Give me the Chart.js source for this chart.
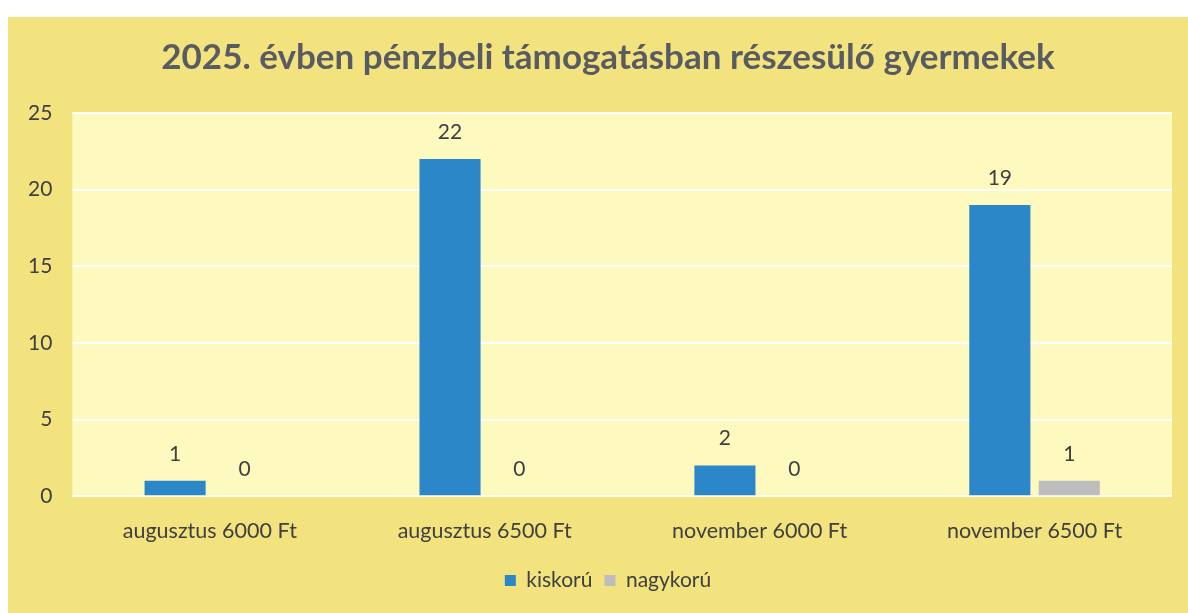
<!DOCTYPE html>
<html lang="hu">
<head>
<meta charset="utf-8">
<title>2025. évben pénzbeli támogatásban részesülő gyermekek</title>
<script src="https://cdn.jsdelivr.net/npm/chart.js@4.4.1/dist/chart.umd.min.js"></script>
<style>
    html, body {
        margin: 0;
        padding: 0;
        background: #ffffff;
        overflow: hidden;
    }
    .chart-box {
        position: absolute;
        left: 8px;
        top: 17px;
        width: 1180px;
        height: 596px;
        background: #f3e37e;
        overflow: hidden;
    }
</style>
</head>
<body>
<div class="chart-box">
    <canvas id="supportChart" width="1200" height="596"></canvas>
</div>
<script>
// 数据
const categories = ['augusztus 6000 Ft', 'augusztus 6500 Ft', 'november 6000 Ft', 'november 6500 Ft'];
const minorValues = [1, 22, 2, 19];   // kiskorú
const adultValues = [0, 0, 0, 1];     // nagykorú
const seriesNames = ['kiskorú', 'nagykorú'];
const yTicks = [0, 5, 10, 15, 20, 25];

const titleText = '2025. évben pénzbeli támogatásban részesülő gyermekek';
const fontFamily = 'Lato, "Open Sans", sans-serif';

// 绘图区背景
const plotBackground = {
    id: 'plotBackground',
    beforeDraw(chart) {
        const { ctx, chartArea } = chart;
        ctx.save();
        ctx.fillStyle = '#fdf9bf';
        ctx.fillRect(chartArea.left, chartArea.top, chartArea.right - chartArea.left, chartArea.bottom - chartArea.top);
        ctx.restore();
    }
};

// 柱顶数值
const valueLabels = {
    id: 'valueLabels',
    afterDatasetsDraw(chart) {
        const { ctx } = chart;
        ctx.save();
        ctx.font = '21px ' + fontFamily;
        ctx.fillStyle = '#404040';
        ctx.textAlign = 'center';
        ctx.textBaseline = 'middle';
        chart.data.datasets.forEach((ds, i) => {
            const meta = chart.getDatasetMeta(i);
            meta.data.forEach((bar, j) => {
                ctx.fillText(String(ds.data[j]), bar.x, bar.y - 27);
            });
        });
        ctx.restore();
    }
};

const ctx = document.getElementById('supportChart');

new Chart(ctx, {
    type: 'bar',
    data: {
        labels: categories,
        datasets: [{
            label: seriesNames[0],
            data: minorValues,
            backgroundColor: '#2c87c9',
            borderWidth: 0
        }, {
            label: seriesNames[1],
            data: adultValues,
            backgroundColor: '#bdbdbd',
            borderWidth: 0
        }]
    },
    options: {
        responsive: false,
        animation: false,
        devicePixelRatio: 1,
        layout: {
            padding: { left: 0, right: 0, top: 20, bottom: 12 }
        },
        datasets: {
            bar: {
                categoryPercentage: 0.505,
                barPercentage: 0.88
            }
        },
        plugins: {
            title: {
                display: true,
                text: titleText,
                color: '#585c62',
                font: { family: fontFamily, size: 35, weight: 'bold' },
                padding: { top: 0, bottom: 34 }
            },
            legend: {
                position: 'bottom',
                labels: {
                    color: '#404040',
                    font: { family: fontFamily, size: 21 },
                    boxWidth: 11,
                    boxHeight: 11,
                    padding: 12
                }
            },
            tooltip: { enabled: false }
        },
        scales: {
            x: {
                grid: { display: false },
                border: { display: false },
                ticks: {
                    color: '#404040',
                    font: { family: fontFamily, size: 21.5 },
                    padding: 14,
                    maxRotation: 0
                }
            },
            y: {
                min: 0,
                max: 25,
                afterBuildTicks(scale) {
                    scale.ticks = yTicks.map(v => ({ value: v }));
                },
                grid: {
                    color: 'rgba(255,255,255,0.95)',
                    lineWidth: 2,
                    drawTicks: false
                },
                border: { display: false },
                ticks: {
                    color: '#404040',
                    font: { family: fontFamily, size: 21 },
                    padding: 20
                }
            },
            // 右侧留白
            yRight: {
                position: 'right',
                grid: { display: false },
                border: { display: false },
                ticks: { display: false },
                afterFit(scale) {
                    scale.width = 36;
                }
            }
        }
    },
    plugins: [plotBackground, valueLabels]
});
</script>
</body>
</html>
